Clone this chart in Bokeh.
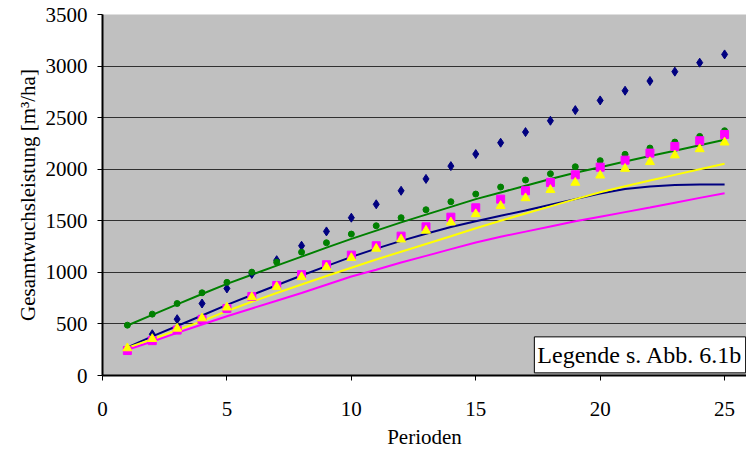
from bokeh.plotting import figure
from bokeh.models import FixedTicker, Range1d, Label
from bokeh.embed import file_html
from bokeh.resources import INLINE

perioden = [1, 2, 3, 4, 5, 6, 7, 8, 9, 10, 11, 12, 13, 14, 15, 16, 17, 18, 19, 20, 21, 22, 23, 24, 25]

# point series (markers)
navy_pts = [250, 400, 546, 698, 844, 985, 1118, 1258, 1397, 1530, 1660, 1791, 1906, 2030, 2147,
            2257, 2360, 2470, 2573, 2667, 2761, 2855, 2946, 3033, 3113]
green_pts = [488, 595, 698, 802, 903, 1002, 1099, 1196, 1287, 1371, 1452, 1530, 1607, 1685, 1759,
             1827, 1895, 1956, 2024, 2083, 2144, 2205, 2263, 2318, 2373]
magenta_pts = [242, 338, 440, 545, 650, 766, 873, 977, 1074, 1167, 1258, 1351, 1441, 1535, 1626,
               1710, 1791, 1872, 1946, 2020, 2088, 2156, 2221, 2276, 2337]
yellow_pts = [265, 355, 455, 555, 660, 760, 860, 955, 1050, 1140, 1230, 1320, 1405, 1485, 1565,
              1645, 1720, 1800, 1870, 1940, 2005, 2070, 2135, 2195, 2260]

# line series
green_line = [485, 588, 690, 790, 888, 977, 1065, 1152, 1240, 1325, 1405, 1485, 1560, 1635, 1710,
              1775, 1840, 1905, 1965, 2020, 2075, 2128, 2180, 2233, 2285]
navy_line = [272, 380, 480, 582, 685, 780, 875, 970, 1060, 1150, 1230, 1305, 1375, 1440, 1495,
             1548, 1600, 1655, 1710, 1765, 1808, 1833, 1846, 1851, 1853]
yellow_line = [270, 352, 440, 527, 625, 715, 800, 882, 965, 1045, 1125, 1200, 1275, 1350, 1428,
               1500, 1570, 1640, 1710, 1777, 1835, 1890, 1945, 2000, 2053]
magenta_line = [250, 330, 413, 495, 575, 650, 725, 800, 880, 960, 1025, 1095, 1160, 1225, 1290,
                1345, 1395, 1445, 1495, 1540, 1584, 1628, 1675, 1722, 1768]

x_ticks = [0, 5, 10, 15, 20, 25]
y_ticks = [0, 500, 1000, 1500, 2000, 2500, 3000, 3500]

FONT = "Liberation Serif"

p = figure(width=746, height=452, output_backend="svg", toolbar_location=None,
           x_range=Range1d(0, 25.88), y_range=Range1d(0, 3500),
           min_border_left=102, min_border_right=0, min_border_top=14, min_border_bottom=77)
p.background_fill_color = "#C0C0C0"
p.border_fill_color = "white"
p.outline_line_color = None
p.xgrid.grid_line_color = None
p.ygrid.grid_line_color = "#303030"
p.ygrid.grid_line_width = 1

p.xaxis.ticker = FixedTicker(ticks=x_ticks)
p.yaxis.ticker = FixedTicker(ticks=y_ticks)
for ax in (p.xaxis[0], p.yaxis[0]):
    ax.axis_line_color = "black"
    ax.axis_line_width = 2
    ax.major_tick_line_color = "black"
    ax.major_tick_in = 0
    ax.major_tick_out = 5
    ax.minor_tick_line_color = None
    ax.major_label_text_font = FONT
    ax.major_label_text_font_size = "21px"
    ax.major_label_text_color = "black"
    ax.axis_label_text_font = FONT
    ax.axis_label_text_font_size = "21px"
    ax.axis_label_text_font_style = "normal"
    ax.axis_label_text_color = "black"

p.xaxis.axis_label = "Perioden"
p.yaxis.axis_label = "Gesamtwuchsleistung [m³/ha]"
p.xaxis.major_label_standoff = 21
p.xaxis.axis_label_standoff = 6
p.yaxis.major_label_standoff = 10
p.yaxis.axis_label_standoff = 3

# lines
p.line(perioden, navy_line, line_color="#000080", line_width=2)
p.line(perioden, magenta_line, line_color="#FF00FF", line_width=2)
p.line(perioden, yellow_line, line_color="#FFFF00", line_width=2)
p.line(perioden, green_line, line_color="#008000", line_width=2)

# markers
p.scatter(perioden, navy_pts, marker="diamond", size=9, fill_color="#000080", line_color="#000080")
p.scatter(perioden, green_pts, marker="circle", size=6, fill_color="#008000", line_color="#008000")
p.scatter(perioden, magenta_pts, marker="square", size=8, fill_color="#FF00FF", line_color="#FF00FF")
p.scatter(perioden, yellow_pts, marker="triangle", size=9, fill_color="#FFFF00", line_color="#FFFF00")

legend_note = Label(x=21.6, y=200, text="Legende s. Abb. 6.1b", text_align="center",
                    text_baseline="middle", text_font=FONT, text_font_size="24px",
                    text_color="black", background_fill_color="white",
                    border_line_color="black", border_line_width=1, padding=(3, 5))
p.add_layout(legend_note)

open("out.html", "w").write(file_html(p, INLINE))
